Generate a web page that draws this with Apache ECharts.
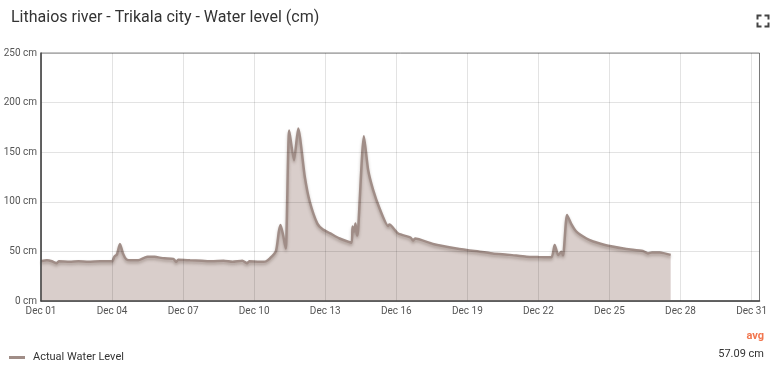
<!DOCTYPE html>
<html>
<head>
<meta charset="utf-8">
<script src="https://cdn.jsdelivr.net/npm/echarts@6/dist/echarts.min.js"></script>
<style>
html,body{margin:0;padding:0;background:#fff;}
#chart{width:770px;height:370px;}
</style>
</head>
<body>
<div id="chart"></div>
<script>
// ---- data ----
var titleText = 'Lithaios river - Trikala city - Water level (cm)';
var seriesName = 'Actual Water Level';
var avgLabel = 'avg';
var avgText = '57.09 cm';
var yTicks = [0, 50, 100, 150, 200, 250];
var times = [
  '2019-12-01 00:00','2019-12-01 06:00','2019-12-01 11:00','2019-12-01 16:00','2019-12-01 18:00',
  '2019-12-02 05:00','2019-12-02 14:00','2019-12-03 00:00','2019-12-03 12:00','2019-12-04 00:00',
  '2019-12-04 02:30','2019-12-04 05:00','2019-12-04 08:00','2019-12-04 11:00','2019-12-04 14:30',
  '2019-12-04 19:00','2019-12-05 02:30','2019-12-05 08:30','2019-12-05 12:00','2019-12-05 19:00',
  '2019-12-06 05:00','2019-12-06 14:00','2019-12-06 17:00','2019-12-06 19:00','2019-12-07 07:00',
  '2019-12-07 19:00','2019-12-08 05:00','2019-12-08 17:00','2019-12-09 02:00','2019-12-09 12:00',
  '2019-12-09 17:00','2019-12-09 19:00','2019-12-10 05:00','2019-12-10 12:00','2019-12-10 16:00',
  '2019-12-10 22:00','2019-12-11 01:00','2019-12-11 02:40','2019-12-11 05:00','2019-12-11 08:00',
  '2019-12-11 11:30','2019-12-11 16:20','2019-12-11 20:40','2019-12-12 03:20','2019-12-12 08:20',
  '2019-12-12 16:00','2019-12-12 21:40','2019-12-13 04:30','2019-12-13 14:30','2019-12-14 02:40',
  '2019-12-14 03:40','2019-12-14 05:20','2019-12-14 06:40','2019-12-14 08:10','2019-12-14 09:20',
  '2019-12-14 15:10','2019-12-14 19:30','2019-12-15 00:30','2019-12-15 07:10','2019-12-15 15:40',
  '2019-12-15 17:00','2019-12-16 02:00','2019-12-16 14:30','2019-12-16 17:00','2019-12-16 19:00',
  '2019-12-17 13:10','2019-12-18 13:00','2019-12-19 12:30','2019-12-20 01:40','2019-12-20 19:00',
  '2019-12-21 11:45','2019-12-22 00:00','2019-12-22 13:10','2019-12-22 16:30','2019-12-22 20:00',
  '2019-12-22 23:20','2019-12-23 01:00','2019-12-23 05:00','2019-12-23 09:40','2019-12-23 14:30',
  '2019-12-24 00:40','2019-12-24 07:30','2019-12-24 14:10','2019-12-25 00:15','2019-12-25 17:00',
  '2019-12-26 09:50','2019-12-26 15:00','2019-12-26 19:00','2019-12-27 03:00','2019-12-27 14:00'
];
var levels = [
  40, 41, 40, 38, 40,
  39.5, 40, 39.5, 40, 40,
  45, 47, 57.5, 48, 42,
  41, 41, 43.5, 44.7, 44.5,
  43, 42.5, 39.5, 41.5, 41,
  40.5, 40, 40.5, 39.5, 40.5,
  38, 40, 39.5, 40, 43,
  50, 70, 76.6, 68, 53,
  172, 142, 174, 125, 100,
  78, 72, 68.5, 63, 58.8,
  75, 70, 78, 66, 72,
  166, 132, 112, 93, 75.6,
  77, 68, 64, 61, 63,
  57.5, 53, 49.7, 48, 46.5,
  44.7, 44.3, 44, 56.5, 46.4,
  49.7, 46, 86.7, 77, 70,
  63, 60, 58, 55.4, 52.4,
  50.4, 48, 49, 49, 46.5
];
var xStart = '2019-12-01 00:00';
var xEnd = '2019-12-31 08:00';
var monthNames = ['Jan','Feb','Mar','Apr','May','Jun','Jul','Aug','Sep','Oct','Nov','Dec'];

function toMs(s){
  var p = s.split(/[- :]/).map(Number);
  return Date.UTC(p[0], p[1]-1, p[2], p[3], p[4]);
}
var DAY = 86400000;
var data = times.map(function(t,i){ return [toMs(t), levels[i]]; });

var chart = echarts.init(document.getElementById('chart'), null, {renderer:'canvas'});
var lineColor = '#a08d87';
var option = {
  animation: false,
  backgroundColor: '#fff',
  title: {
    text: titleText, left: 6, top: 5,
    textStyle: {fontFamily: 'Roboto', fontSize: 16, fontWeight: 'normal', color: '#333'}
  },
  grid: {left: 41, right: 10, top: 53, bottom: 69, show: true, borderColor: '#888', borderWidth: 1},
  xAxis: {
    type: 'value', z: 10,
    min: toMs(xStart), max: toMs(xEnd), interval: 3*DAY,
    axisLine: {show: true, lineStyle: {color: '#444', width: 1.5}},
    axisTick: {show: false},
    splitLine: {show: true, lineStyle: {color: 'rgba(0,0,0,0.11)', width: 1}},
    axisLabel: {
      showMaxLabel: false,
      fontFamily: 'Roboto', fontSize: 10, color: '#555', margin: 5,
      formatter: function(v){
        var d = new Date(v);
        var dd = d.getUTCDate();
        return monthNames[d.getUTCMonth()] + ' ' + (dd < 10 ? '0' + dd : dd);
      }
    }
  },
  yAxis: {
    type: 'value', z: 10, min: yTicks[0], max: yTicks[yTicks.length-1], interval: 50,
    axisLine: {show: true, lineStyle: {color: '#444', width: 1.5}},
    axisTick: {show: false},
    splitLine: {show: true, lineStyle: {color: 'rgba(0,0,0,0.11)', width: 1}},
    axisLabel: {fontFamily: 'Roboto', fontSize: 10, color: '#555', margin: 4,
      formatter: function(v){ return v + ' cm'; }}
  },
  legend: {
    left: 4, top: 347,
    data: [seriesName],
    icon: 'rect', itemWidth: 16, itemHeight: 3,
    textStyle: {fontFamily: 'Roboto', fontSize: 11, color: '#333', padding: [0,0,0,3]}
  },
  series: [{
    name: seriesName,
    type: 'line',
    data: data,
    showSymbol: false,
    symbol: 'none',
    smooth: 0.2,
    lineStyle: {color: lineColor, width: 2.5, shadowColor: 'rgba(80,60,50,0.35)', shadowBlur: 3, shadowOffsetY: 2},
    itemStyle: {color: lineColor},
    areaStyle: {color: '#d9cecb', opacity: 1}
  }],
  graphic: [
    {type: 'text', right: 6, top: 331, style: {text: avgLabel, fill: '#f2764e', fontFamily: 'Roboto', fontSize: 11, fontWeight: 'bold'}},
    {type: 'text', right: 6, top: 349, style: {text: avgText, fill: '#333', fontFamily: 'Roboto', fontSize: 11}},
    {type: 'group', left: 755, top: 13, children: [
      {type: 'polyline', shape: {points: [[0,4],[0,0],[4,0]]}, style: {stroke: '#444', lineWidth: 2, fill: null}},
      {type: 'polyline', shape: {points: [[7,0],[11,0],[11,4]]}, style: {stroke: '#444', lineWidth: 2, fill: null}},
      {type: 'polyline', shape: {points: [[0,7],[0,11],[4,11]]}, style: {stroke: '#444', lineWidth: 2, fill: null}},
      {type: 'polyline', shape: {points: [[7,11],[11,11],[11,7]]}, style: {stroke: '#444', lineWidth: 2, fill: null}}
    ]}
  ]
};
chart.setOption(option);
</script>
</body>
</html>
